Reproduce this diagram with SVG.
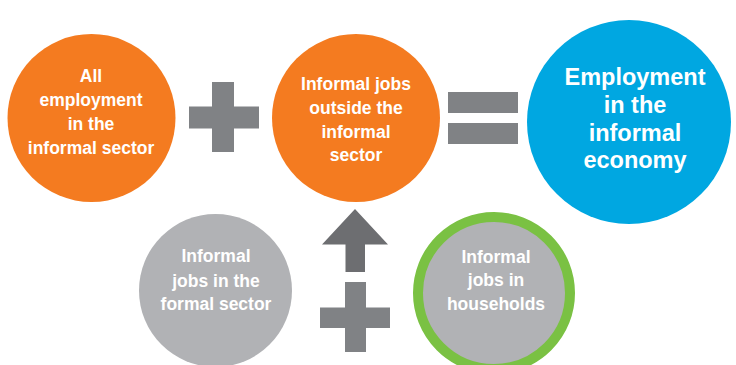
<svg xmlns="http://www.w3.org/2000/svg" width="736" height="365" viewBox="0 0 736 365">
  <style>
    .lbl { font-family: "Liberation Sans", Arial, sans-serif; font-weight: bold; fill: #ffffff; text-anchor: middle; }
    .sm { font-size: 17.5px; }
    .lg { font-size: 23.5px; }
    .orange { fill: #f47b20; }
    .blue { fill: #00a7e1; }
    .grey { fill: #b1b2b5; }
    .op { fill: #808285; }
    .arrow { fill: #6d6e71; }
  </style>

  <!-- operators between the terms -->
  <g id="connectors">
    <!-- plus between the top two terms -->
    <path class="op" d="M212 82h22v24.5h25v22h-25v23.5h-22v-23.5h-23v-22h23z"/>
    <!-- equals sign -->
    <rect class="op" x="448" y="92" width="70" height="21"/>
    <rect class="op" x="448" y="123" width="70" height="21"/>
    <!-- upward arrow into the middle term -->
    <path class="arrow" d="M355 209L388 244.5H365V272H345.5V244.5H322Z"/>
    <!-- plus between the bottom two terms -->
    <path class="op" d="M345 282h21v25.5h24v20.5h-24v24h-21v-24h-25v-20.5h25z"/>
  </g>

  <g id="informal-sector">
    <circle class="orange" cx="91.5" cy="118" r="84"/>
    <text class="lbl sm" x="91" y="82">All</text>
    <text class="lbl sm" x="91" y="106">employment</text>
    <text class="lbl sm" x="91" y="130">in the</text>
    <text class="lbl sm" x="91" y="154">informal sector</text>
  </g>

  <g id="outside-informal-sector">
    <circle class="orange" cx="356" cy="118" r="84"/>
    <text class="lbl sm" x="356" y="89.5">Informal jobs</text>
    <text class="lbl sm" x="356" y="113.5">outside the</text>
    <text class="lbl sm" x="356" y="137.5">informal</text>
    <text class="lbl sm" x="356" y="161">sector</text>
  </g>

  <g id="informal-economy">
    <circle class="blue" cx="629" cy="122" r="102"/>
    <text class="lbl lg" x="635" y="85">Employment</text>
    <text class="lbl lg" x="635" y="113">in the</text>
    <text class="lbl lg" x="635" y="141">informal</text>
    <text class="lbl lg" x="635" y="168">economy</text>
  </g>

  <g id="formal-sector">
    <circle class="grey" cx="215.5" cy="290.5" r="76.5"/>
    <text class="lbl sm" x="216" y="262">Informal</text>
    <text class="lbl sm" x="216" y="286.5">jobs in the</text>
    <text class="lbl sm" x="216" y="310">formal sector</text>
  </g>

  <g id="households">
    <circle class="grey" cx="494" cy="293" r="76" stroke="#7ac143" stroke-width="10"/>
    <text class="lbl sm" x="496" y="262.5">Informal</text>
    <text class="lbl sm" x="496" y="286">jobs in</text>
    <text class="lbl sm" x="496" y="310">households</text>
  </g>
</svg>
